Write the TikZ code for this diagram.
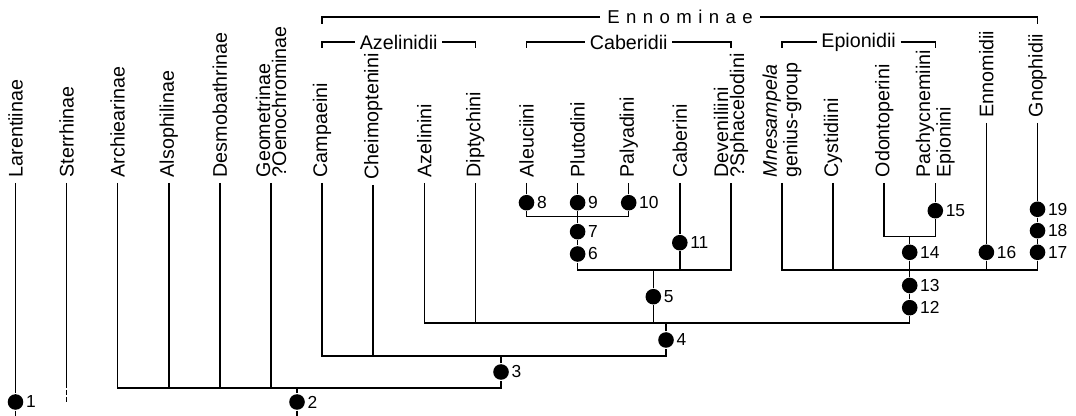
\documentclass[tikz,border=0pt]{standalone}
\usepackage{fontspec}
\setmainfont{Liberation Sans}
\newcommand{\tx}{\fontsize{9.85}{8}\selectfont}

\begin{document}
\begin{tikzpicture}[x=0.5pt,y=-0.5pt,line width=0.75pt,
   taxon/.style={rotate=90,anchor=west,align=left,inner xsep=2.5pt,inner ysep=0pt,font=\tx},
   syn/.style={circle,fill,inner sep=0pt,minimum size=7.8pt},
   num/.style={inner sep=0.6pt,font=\fontsize{8.7}{9}\selectfont},
   clade/.style={inner xsep=2pt,inner ysep=0pt,font=\tx},
   sterr/.style={dash pattern=on 2.5pt off 1pt,dash phase=2.5pt}]
   \useasboundingbox (0,0) rectangle (1076,416);
   \coordinate (base) at (0,416);

   % taxa
   \node[taxon] (lar) at (15.5,183)   {Larentiinae};
   \node[taxon] (ste) at (66.6,183)   {Sterrhinae};
   \node[taxon] (arc) at (117.7,183)  {Archiearinae};
   \node[taxon] (als) at (168.8,183)  {Alsophilinae};
   \node[taxon] (des) at (219.9,183)  {Desmobathrinae};
   \node[taxon] (geo) at (271.0,183)  {Geometrinae\\?Oenochrominae};
   \node[taxon] (cam) at (322.1,183)  {Campaeini};
   \node[taxon] (che) at (373.2,185)  {Cheimoptenini};
   \node[taxon] (aze) at (424.3,183)  {Azelinini};
   \node[taxon] (dip) at (475.4,183)  {Diptychini};
   \node[taxon] (ale) at (526.5,183)  {Aleuciini};
   \node[taxon] (plu) at (577.6,183)  {Plutodini};
   \node[taxon] (pal) at (628.7,183)  {Palyadini};
   \node[taxon] (cab) at (679.8,183)  {Caberini};
   \node[taxon] (dev) at (730.9,183)  {Deveniliini\\?Sphacelodini};
   \node[taxon] (mne) at (782.0,183)  {\textit{Mnesampela}\\genius-group};
   \node[taxon] (cys) at (833.1,183)  {Cystidiini};
   \node[taxon] (odo) at (884.2,183)  {Odontoperini};
   \node[taxon] (pac) at (935.3,183)  {Pachycnemiini\\Epionini};
   \node[taxon] (enn) at (986.4,123)  {Ennomidii};
   \node[taxon] (gno) at (1037.5,123) {Gnophidii};

   % synapomorphies
   \node[syn,label={[num]east:1}]  (s1)  at (15.5,402)    {};
   \node[syn,label={[num]east:2}]  (s2)  at (297,402)     {};
   \node[syn,label={[num]east:3}]  (s3)  at (501,372)     {};
   \node[syn,label={[num]east:4}]  (s4)  at (666,340)     {};
   \node[syn,label={[num]east:5}]  (s5)  at (653.3,296.7) {};
   \node[syn,label={[num]east:6}]  (s6)  at (577.6,254)   {};
   \node[syn,label={[num]east:7}]  (s7)  at (577.6,231.7) {};
   \node[syn,label={[num]east:8}]  (s8)  at (526.5,202.7) {};
   \node[syn,label={[num]east:9}]  (s9)  at (577.6,202.7) {};
   \node[syn,label={[num]east:10}] (s10) at (628.7,202.7) {};
   \node[syn,label={[num]east:11}] (s11) at (679.8,242.7) {};
   \node[syn,label={[num]east:12}] (s12) at (909.7,307.7) {};
   \node[syn,label={[num]east:13}] (s13) at (909.7,285.5) {};
   \node[syn,label={[num]east:14}] (s14) at (909.7,252.3) {};
   \node[syn,label={[num]east:15}] (s15) at (935.3,210.7) {};
   \node[syn,label={[num]east:16}] (s16) at (986.4,252.3) {};
   \node[syn,label={[num]east:17}] (s17) at (1037.5,252.3) {};
   \node[syn,label={[num]east:18}] (s18) at (1037.5,230.7) {};
   \node[syn,label={[num]east:19}] (s19) at (1037.5,209.3) {};

   \coordinate (c2)   at (297,388);
   \coordinate (c3)   at (501,388);
   \coordinate (c3t)  at (501,356);
   \coordinate (c4)   at (666,356);
   \coordinate (c4t)  at (666,323);
   \coordinate (c5)   at (653.3,323);
   \coordinate (c5t)  at (653.3,270);
   \coordinate (c6)   at (577.6,270);
   \coordinate (c6t)  at (577.6,216.7);
   \coordinate (c12)  at (909.7,323);
   \coordinate (c12t) at (909.7,270);
   \coordinate (c14t) at (909.7,236.7);
   \coordinate (ste-end) at (66.6,404);

   % tree
   \draw (lar.west) -- (s1) -- (lar.west |- base);
   \draw (ste.west) -- (ste.west |- c3);
   \draw[sterr] (ste.west |- c3) -- (ste-end);
   \draw (arc.west) |- (c3) -- (s3) -- (c3t);
   \draw (als.west) -- (als.west |- c3);
   \draw (des.west) -- (des.west |- c3);
   \draw (geo.west) -- (geo.west |- c3);
   \draw (c2) -- (s2) -- (c2 |- base);
   \draw (cam.west) |- (c4) -- (s4) -- (c4t);
   \draw (che.west) -- (che.west |- c4);
   \draw (aze.west) |- (c12) -- (s12) -- (s13) -- (c12t);
   \draw (dip.west) -- (dip.west |- c12);
   \draw (c5) -- (s5) -- (c5t);
   \draw (c6t) -- (s7) -- (s6) -- (c6) -| (dev.west);
   \draw (cab.west) -- (s11) -- (cab.west |- c6);
   \draw (ale.west) -- (s8) |- (c6t) -| (s10) -- (pal.west);
   \draw (plu.west) -- (s9) -- (c6t);
   \draw (mne.west) |- (gno.west |- c12t);
   \draw (cys.west) -- (cys.west |- c12t);
   \draw (c14t) -- (s14) -- (c12t);
   \draw (odo.west) |- (c14t) -| (s15) -- (pac.west);
   \draw (enn.west) -- (s16) -- (enn.west |- c12t);
   \draw (gno.west) -- (s19) -- (s18) -- (s17) -- (gno.west |- c12t);

   % clades
   \coordinate (ennL) at (322.1,24);
   \coordinate (ennR) at (1037.5,24);
   \coordinate (azeL) at (322.1,48);
   \coordinate (azeR) at (475.4,48);
   \coordinate (cabL) at (526.5,48);
   \coordinate (cabR) at (730.9,48);
   \coordinate (epiL) at (782,48);
   \coordinate (epiR) at (935.3,48);
   \node[clade,inner xsep=3.5pt,font=\fontsize{9.3}{10}\selectfont] (ennominae) at (680,17)
      {\spaceskip=3.2pt E n n o m i n a e};
   \node[clade] (azelinidii) at (398.7,42) {Azelinidii};
   \node[clade] (caberidii)  at (628.7,42) {Caberidii};
   \node[clade] (epionidii)  at (858.6,42) {Epionidii};
   \draw (ennL) |- (ennominae) -| (ennR);
   \draw (azeL) |- (azelinidii) -| (azeR);
   \draw (cabL) |- (caberidii) -| (cabR);
   \draw (epiL) |- (epionidii) -| (epiR);
\end{tikzpicture}
\end{document}
